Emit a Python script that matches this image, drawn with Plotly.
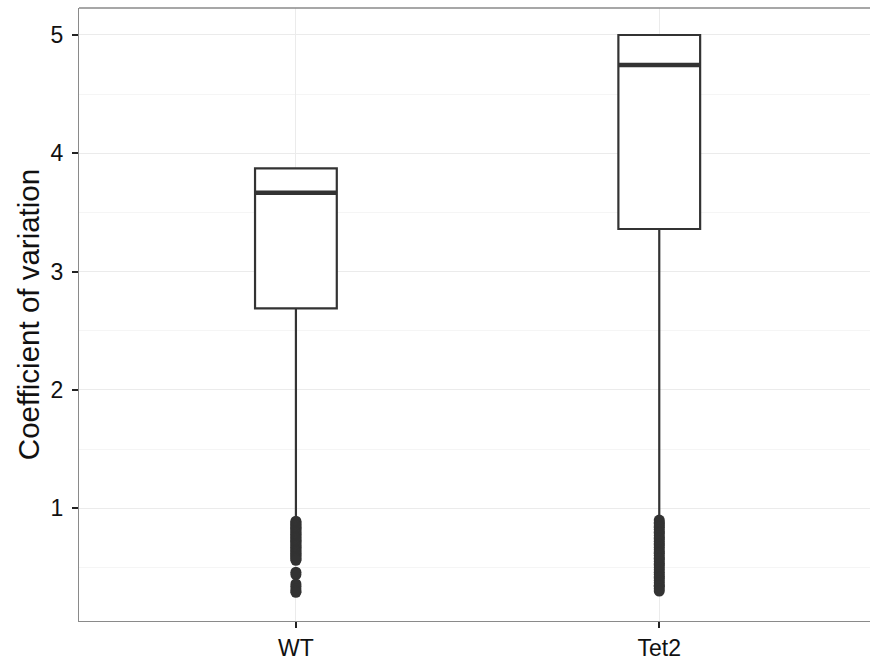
import plotly.graph_objects as go

groups = ["WT", "Tet2"]
q1 = [2.69, 3.36]
median = [3.667, 4.746]
q3 = [3.873, 5.0]
lower_fence = [0.92, 0.905]
upper_fence = [3.873, 5.0]

wt_outliers = [0.89, 0.88, 0.87, 0.86, 0.85, 0.84, 0.83, 0.82, 0.81, 0.80, 0.79,
               0.78, 0.77, 0.76, 0.75, 0.74, 0.73, 0.72, 0.71, 0.70, 0.69, 0.68,
               0.67, 0.66, 0.65, 0.64, 0.63, 0.62, 0.61, 0.60, 0.59, 0.58, 0.57,
               0.56, 0.46, 0.44, 0.36, 0.34, 0.32, 0.30, 0.29]
tet2_outliers = [0.90, 0.88, 0.87, 0.85, 0.84, 0.82, 0.80, 0.79, 0.77, 0.75, 0.74,
                 0.72, 0.70, 0.69, 0.67, 0.65, 0.63, 0.62, 0.60, 0.58, 0.57, 0.55,
                 0.53, 0.52, 0.50, 0.48, 0.46, 0.44, 0.42, 0.41, 0.39, 0.37, 0.35,
                 0.34, 0.32, 0.30]

y_ticks = [1, 2, 3, 4, 5]
box_width = 0.225
dark = "#333333"
border = "#8a8a8a"
font_family = "Liberation Sans, Arial, Helvetica, sans-serif"

fig = go.Figure()

fig.add_trace(go.Box(
    x=groups, q1=q1, median=median, q3=q3,
    lowerfence=lower_fence, upperfence=upper_fence,
    boxpoints=False, width=box_width, whiskerwidth=0,
    fillcolor="white", line=dict(color=dark, width=2.2),
    showlegend=False, hoverinfo="skip",
))

fig.add_trace(go.Scatter(
    x=["WT"] * len(wt_outliers), y=wt_outliers, mode="markers",
    marker=dict(size=11, color=dark), showlegend=False,
))
fig.add_trace(go.Scatter(
    x=["Tet2"] * len(tet2_outliers), y=tet2_outliers, mode="markers",
    marker=dict(size=11, color=dark), showlegend=False,
))

# thick median lines (ggplot style)
for i, m in enumerate(median):
    fig.add_shape(type="line", xref="x", yref="y",
                  x0=i - box_width / 2, x1=i + box_width / 2, y0=m, y1=m,
                  line=dict(color=dark, width=4.5))

# top panel border (right edge runs off the page)
fig.add_shape(type="line", xref="paper", yref="paper", x0=0, x1=1, y0=1, y1=1,
              line=dict(color=border, width=1.3), layer="above")

fig.update_layout(
    width=870, height=664,
    margin=dict(l=79, r=0, t=8, b=43),
    paper_bgcolor="white", plot_bgcolor="white",
    font=dict(family=font_family, color="#111111"),
    xaxis=dict(
        type="category", categoryorder="array", categoryarray=groups,
        range=[-0.597, 1.58],
        showgrid=True, gridcolor="#ebebeb", gridwidth=1,
        ticks="outside", ticklen=6, tickwidth=2, tickcolor="#222222",
        tickfont=dict(size=23, family=font_family, color="#111111"),
        showline=True, linecolor=border, linewidth=1.3, mirror=False, zeroline=False,
    ),
    yaxis=dict(
        range=[0.047, 5.228],
        tickvals=y_ticks,
        showgrid=True, gridcolor="#ebebeb", gridwidth=1,
        minor=dict(dtick=0.5, tick0=0.5, showgrid=True, gridcolor="#f5f5f5", gridwidth=1, ticks=""),
        ticks="outside", ticklen=6, tickwidth=2, tickcolor="#222222",
        tickfont=dict(size=23, family=font_family, color="#111111"),
        ticklabelstandoff=4,
        title=dict(text="Coefficient of variation", font=dict(size=29.5, family=font_family, color="#111111"), standoff=2),
        showline=True, linecolor=border, linewidth=1.3, mirror=False, zeroline=False,
    ),
)

fig.write_html("out.html")
